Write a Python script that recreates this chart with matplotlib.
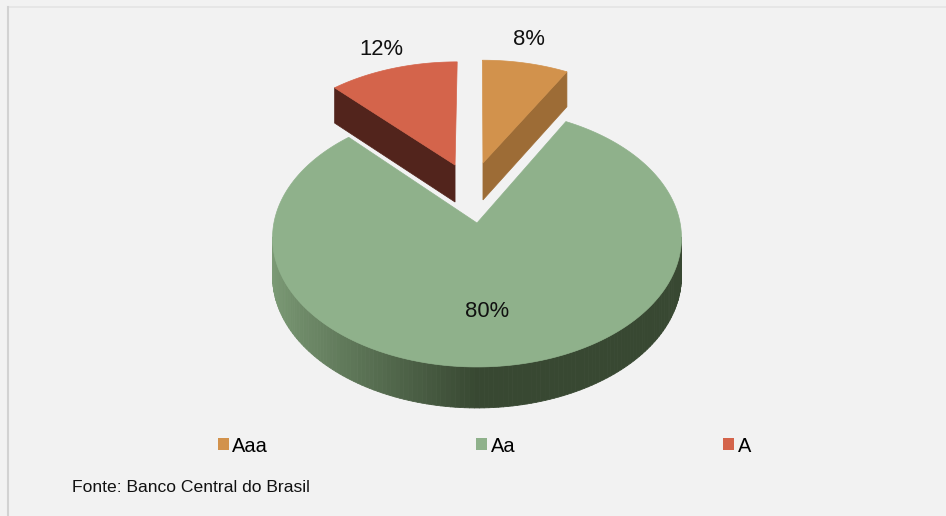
"""3D-style exploded pie: distribuição por rating (Banco Central do Brasil)."""

import matplotlib

matplotlib.use("Agg")
import matplotlib.pyplot as plt
import numpy as np
from matplotlib.collections import PolyCollection
from matplotlib.colors import to_rgb
from matplotlib.lines import Line2D
from matplotlib.patches import Patch, Polygon

# --- data -------------------------------------------------------------------
CATEGORIES = ["Aaa", "Aa", "A"]
VALUES = [8, 80, 12]  # %
SOURCE = "Fonte: Banco Central do Brasil"

# --- style ------------------------------------------------------------------
BG = "#F2F2F2"
TOP_COLORS = ["#D2924C", "#8FB18B", "#D4644B"]
SIDE_DARK = ["#9D6C36", "#384832", "#52241C"]
SIDE_LIGHT = ["#9D6C36", "#7C9B76", "#52241C"]
# in-plane shift of each slice (x, depth), in pie-radius units
EXPLODE = [(0.031, 0.498), (0.0, 0.0), (-0.114, 0.48)]
LABEL_R = [1.3, 0.63, 1.25]
LABEL_NUDGE = [(-6, 0), (-5, 0), (2, 0)]  # points

# projection (pixels of a 946x516 canvas)
CX, CY = 477.0, 223.0
RX, RY = 203.1, 127.4
PERSP = 0.115
DEPTH, DEPTH_PERSP = 38.2, 0.068

FONT = "Liberation Sans"
plt.rcParams["font.family"] = [FONT, "DejaVu Sans"]


def project(X, Z):
    d = 1 + PERSP * np.asarray(Z)
    return CX + RX * np.asarray(X) / d, CY - RY * np.asarray(Z) / d


def drop(Z):
    return DEPTH / (1 + DEPTH_PERSP * np.asarray(Z))


def mix(c1, c2, w):
    a, b = np.array(to_rgb(c1)), np.array(to_rgb(c2))
    return tuple(a + (b - a) * w)


def draw_slice(ax, th1, th2, off, top, dark, light):
    ox, oz = off
    th = np.linspace(th1, th2, 240)
    X, Z = ox + np.sin(th), oz + np.cos(th)
    xs, ys = project(X, Z)
    ybs = ys + drop(Z)
    c0x, c0y = project(ox, oz)
    c0b = c0y + drop(oz)

    # outer wall: only where the rim runs right-to-left on screen (front side)
    quads, cols = [], []
    for i in range(len(th) - 1):
        if xs[i + 1] - xs[i] < 0:
            quads.append([(xs[i], ys[i]), (xs[i + 1], ys[i + 1]),
                          (xs[i + 1], ybs[i + 1]), (xs[i], ybs[i])])
            w = np.clip(-np.sin(0.5 * (th[i] + th[i + 1])), 0, 1)
            cols.append(mix(dark, light, w))
    if quads:
        ax.add_collection(PolyCollection(quads, facecolors=cols, edgecolors=cols,
                                         linewidths=0.6, zorder=2))

    # radial cut faces facing the viewer
    for idx, facing in ((0, np.sin(th1)), (-1, -np.sin(th2))):
        if facing < -1e-6:
            poly = [(c0x, c0y), (xs[idx], ys[idx]), (xs[idx], ybs[idx]), (c0x, c0b)]
            ax.add_patch(Polygon(poly, closed=True, facecolor=dark, edgecolor=dark,
                                 linewidth=0.5, zorder=3))

    # top face
    poly = np.column_stack([np.r_[c0x, xs], np.r_[c0y, ys]])
    ax.add_patch(Polygon(poly, closed=True, facecolor=top, edgecolor=top,
                         linewidth=0.5, zorder=4))


def main() -> None:
    fig = plt.figure(figsize=(9.46, 5.16), dpi=100, facecolor=BG)
    ax = fig.add_axes([0, 0, 1, 1])
    ax.set_xlim(0, 946)
    ax.set_ylim(516, 0)
    ax.axis("off")

    # faint chart-area border (top and left)
    ax.add_line(Line2D([8, 946], [6.5, 6.5], color="#E4E4E4", lw=1.2))
    ax.add_line(Line2D([8, 8], [6.5, 516], color="#D2D2D2", lw=1.5))

    total = float(sum(VALUES))
    bounds = np.r_[0, np.cumsum(VALUES)] / total * 2 * np.pi
    order = sorted(range(len(VALUES)), key=lambda i: -EXPLODE[i][1])
    for i in order:
        draw_slice(ax, bounds[i], bounds[i + 1], EXPLODE[i],
                   TOP_COLORS[i], SIDE_DARK[i], SIDE_LIGHT[i])

    for i, v in enumerate(VALUES):
        mid = 0.5 * (bounds[i] + bounds[i + 1])
        ox, oz = EXPLODE[i]
        lx, ly = project(ox + LABEL_R[i] * np.sin(mid), oz + LABEL_R[i] * np.cos(mid))
        ax.annotate(f"{v}%", (float(lx), float(ly)), xytext=LABEL_NUDGE[i],
                    textcoords="offset points", ha="center", va="center_baseline",
                    fontsize=15.8, color="#111111", zorder=6)

    handles = [Patch(facecolor=c, edgecolor="none", label=lab)
               for c, lab in zip(TOP_COLORS, CATEGORIES)]
    fig.legend(handles=handles, loc="center", bbox_to_anchor=(484.5 / 946, 1 - 446 / 516),
               ncol=3, frameon=False, fontsize=14.4, handlelength=0.55,
               handleheight=0.55, handletextpad=0.18, columnspacing=10.4,
               borderpad=0, borderaxespad=0)

    fig.text(72 / 946, 1 - 491.5 / 516, SOURCE, ha="left", va="baseline",
             fontsize=12.6, color="#111111")

    fig.savefig("out.png", dpi=100, facecolor=BG)


if __name__ == "__main__":
    main()
